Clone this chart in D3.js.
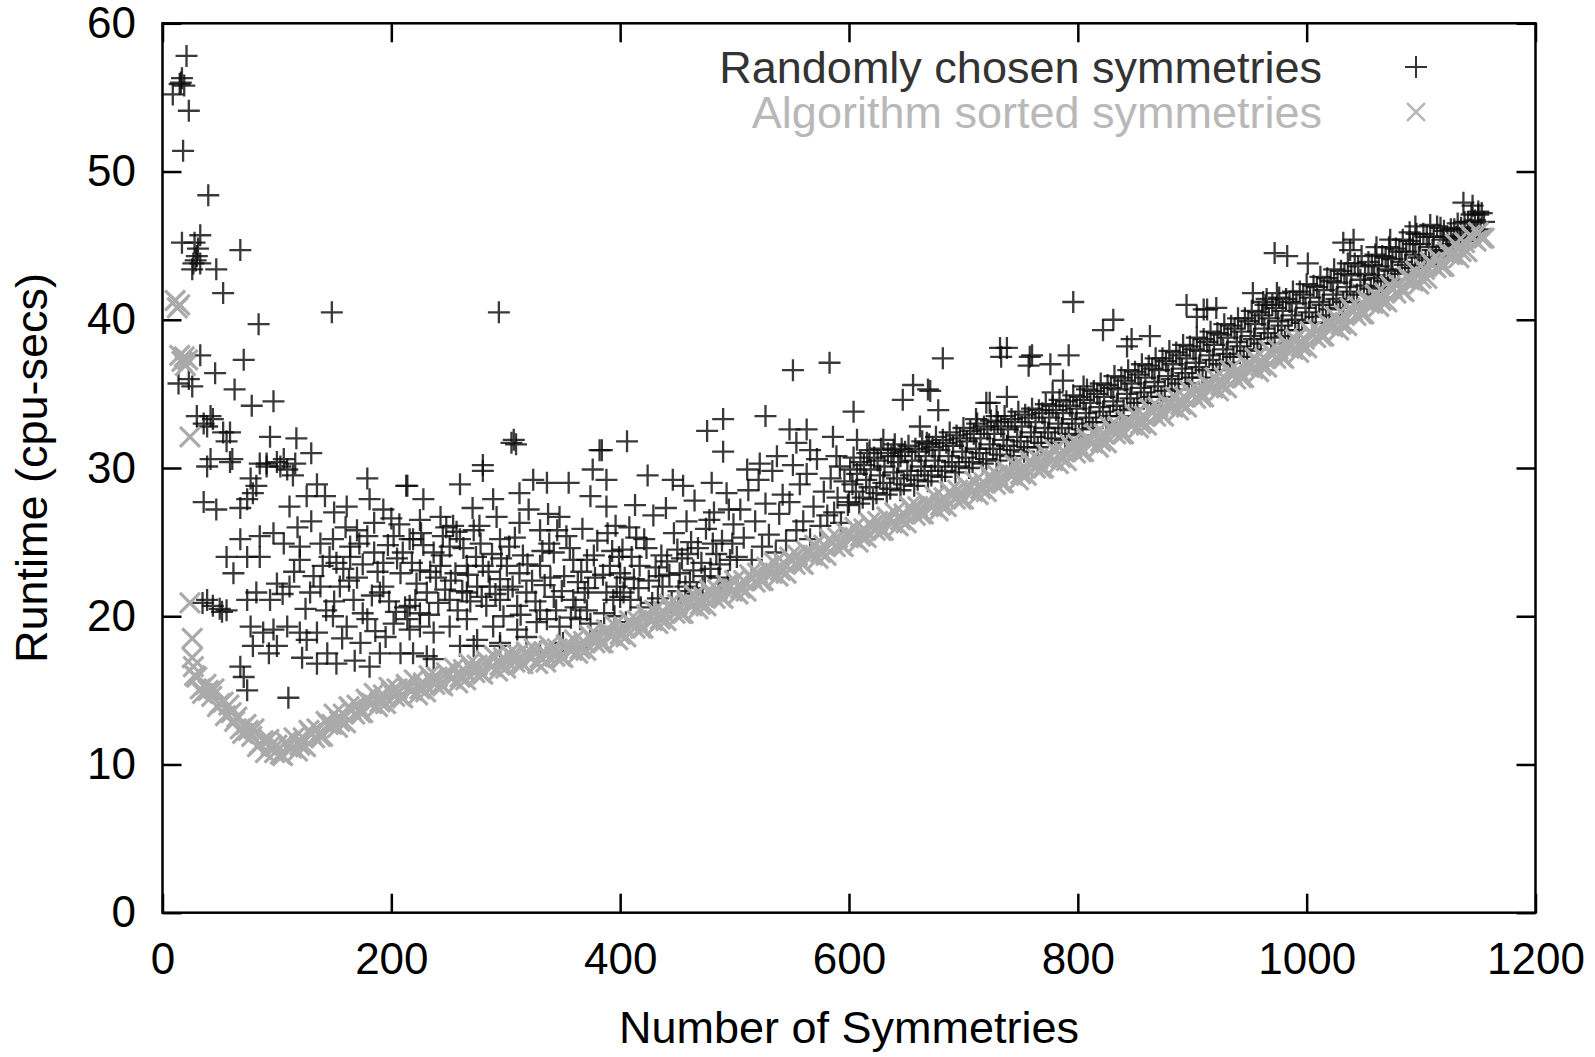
<!DOCTYPE html>
<html lang="en">
<head>
<meta charset="UTF-8">
<title>Runtime vs number of symmetries</title>
<script src="https://cdn.jsdelivr.net/npm/d3@7/dist/d3.min.js"></script>
<style>
  body { margin: 0; background: #fff; }
  text { font-family: "Liberation Sans", Arial, Helvetica, sans-serif; }
</style>
</head>
<body>
<script>
var xTicks = [0, 200, 400, 600, 800, 1000, 1200];
var yTicks = [0, 10, 20, 30, 40, 50, 60];
var seriesNames = ['Randomly chosen symmetries', 'Algorithm sorted symmetries'];
var xTitle = 'Number of Symmetries';
var yTitle = 'Runtime (cpu-secs)';

// [number of symmetries, runtime]
var randomPts = [
  [9,55.2],[15,55.9],[16,56.0],[17,56.3],[19,55.8],[21,57.8],[23,54.1],[18,51.4],[40,48.4],[17,45.2],[28,45.2],[33,45.7],
  [31,44.8],[30,44.3],[27,43.8],[33,43.8],[26,43.4],[29,44.0],[68,44.7],[47,43.4],[53,41.8],[84,39.7],[33,37.6],[71,37.3],
  [46,36.4],[14,35.7],[23,36.0],[26,35.5],[63,35.3],[78,34.2],[97,34.5],[30,33.5],[42,33.5],[36,33.0],[44,33.3],[39,32.8],
  [53,32.4],[59,32.4],[56,31.8],[94,32.1],[117,32.0],[130,31.0],[42,30.6],[61,30.6],[85,30.3],[91,30.3],[106,30.6],[116,30.3],
  [39,30.1],[59,30.4],[77,29.3],[82,28.8],[79,28.3],[74,27.9],[91,30.1],[103,30.1],[109,29.9],[114,29.5],[100,30.4],[135,28.9],
  [179,29.3],[213,28.8],[36,27.7],[47,27.2],[68,27.3],[111,27.4],[126,28.1],[142,28.1],[161,27.4],[181,27.9],[193,27.2],[56,24.0],
  [62,22.9],[74,24.0],[85,24.0],[68,25.2],[85,25.4],[97,25.6],[106,24.9],[120,24.7],[138,24.9],[149,25.2],[164,24.7],[179,25.4],
  [202,25.4],[216,25.2],[120,23.8],[132,22.7],[146,24.0],[164,24.0],[193,23.6],[208,22.9],[100,22.2],[82,21.6],[74,21.1],[94,21.1],
  [35,20.9],[39,21.1],[44,20.7],[50,20.5],[52,20.3],[56,20.4],[111,22.0],[129,21.6],[138,22.0],[155,22.0],[167,21.1],[190,21.6],
  [193,22.0],[77,19.3],[88,18.9],[97,19.1],[109,19.3],[120,18.9],[135,18.9],[149,20.0],[161,19.3],[179,19.8],[202,19.5],[216,19.1],
  [79,18.0],[100,18.0],[126,18.4],[144,17.5],[173,18.2],[190,17.5],[208,17.5],[68,16.6],[71,15.9],[135,16.8],[152,16.8],[181,16.6],
  [74,15.0],[110,14.5],[148,40.5],[294,40.5],
  [105,21.5],[115,23.0],[125,20.5],[140,23.4],[150,21.0],[158,23.2],[170,22.6],[175,20.2],[185,24.3],[198,21.0],[205,23.9],[212,20.6],
  [160,26.0],[170,25.8],[185,26.3],[150,27.0],[130,26.4],[118,26.0],[200,26.6],[210,24.3],[143,20.4],[157,18.5],[168,17.0],[186,19.0],
  [195,18.6],[122,17.2],[93,17.5],[175,23.5],
  [214,28.8],[228,27.9],[260,28.9],[280,29.8],[305,31.7],[307,31.9],[309,31.6],[289,27.9],[312,28.3],[324,29.2],[336,29.0],[382,31.2],
  [406,31.8],[376,29.9],[388,29.2],[374,28.1],[388,27.4],[347,26.7],[330,25.8],[312,26.3],[295,25.2],[277,26.1],[272,25.8],[225,26.5],
  [243,26.7],[254,26.1],[245,25.4],[260,25.2],[219,25.2],[237,24.3],[251,24.7],[225,23.1],[243,23.4],[266,23.4],[280,23.4],[301,23.4],
  [312,22.9],[330,23.4],[342,24.3],[359,23.8],[371,23.8],[391,23.4],[400,22.9],[412,22.5],[397,22.0],[417,23.4],[216,20.7],[231,21.6],
  [225,20.2],[251,21.1],[266,21.6],[275,22.0],[286,22.0],[295,22.5],[295,21.1],[310,20.7],[318,21.6],[330,20.4],[342,21.3],[359,21.1],
  [371,20.4],[388,21.6],[400,21.3],[409,21.1],[214,19.8],[225,19.3],[237,18.9],[251,19.3],[266,19.8],[275,18.4],[289,19.3],[295,18.2],
  [310,19.1],[318,18.6],[336,19.8],[347,19.3],[365,19.8],[374,19.5],[219,17.5],[231,17.3],[272,18.0],[295,18.0],[260,18.0],[237,17.1],
  [280,30.2],[355,29.0],[337,26.9],[350,18.2],[362,17.9],[330,17.6],[383,19.0],[395,20.0],[405,19.6],
  [222,22.2],[228,24.8],[233,20.1],[239,22.6],[247,21.8],[248,26.0],[256,22.9],[258,20.4],[263,24.6],[269,21.0],[271,27.3],[278,24.9],
  [283,20.7],[288,24.2],[292,26.7],[298,20.0],[303,24.7],[306,22.0],[315,24.1],[320,27.2],[323,22.4],[327,19.6],[334,22.1],[338,24.9],
  [344,20.4],[351,22.7],[353,25.4],[357,19.9],[363,22.3],[367,25.9],[369,21.6],[378,22.6],[380,25.1],[386,20.2],[393,24.4],[396,26.1],
  [403,21.6],[410,24.0],[414,25.3],[428,20.9],[431,23.3],[437,22.0],[445,20.9],[450,24.5],[457,22.0],[462,25.0],[467,21.5],[471,23.6],
  [478,26.5],[484,24.2],[488,21.9],[495,27.2],[498,24.9],
  [152,23.6],[163,22.4],[172,24.9],[183,21.4],[188,23.0],[197,24.8],[204,20.3],[207,26.2],[218,23.6],[221,21.1],[226,25.6],[234,23.0],
  [241,20.9],[244,24.1],[252,22.4],[257,25.7],[262,21.7],[267,22.8],[274,24.0],[279,21.3],[285,23.0],[291,21.5],[296,23.9],[302,21.8],
  [308,25.3],[313,20.1],[319,23.5],[326,21.0],[332,24.4],[339,22.6],[345,25.8],[349,21.7],[356,24.6],[361,20.6],[366,23.0],[372,21.9],
  [377,24.1],[385,22.8],[389,25.6],[394,21.1],[399,24.0],[404,22.6],[416,21.9],[423,24.6],[434,22.7],[441,23.7],[452,22.9],[459,24.2],
  [464,23.1],[474,22.7],[481,24.9],[487,23.5],[494,22.4],
  [384,31.2],[424,29.5],[446,29.2],[455,28.8],[476,32.5],[490,33.3],[490,31.1],[527,33.5],[551,36.6],[583,37.1],[480,29.0],[511,29.9],
  [522,30.3],[537,30.8],[548,32.6],[563,32.6],[566,31.2],[554,31.7],[586,32.1],[589,30.8],[592,30.1],
  [402,24.5],[408,26.0],[413,27.5],[418,20.6],[421,25.2],[425,22.4],[429,26.8],[433,21.2],[436,24.1],[440,27.3],[443,22.8],[447,25.6],
  [451,21.7],[454,23.9],[458,26.4],[461,22.3],[465,27.8],[468,24.6],[472,21.9],[475,25.9],[479,23.2],[482,27.0],[486,22.6],[489,25.1],
  [493,28.3],[496,23.8],[499,26.2],
  [502,24.0],[505,27.2],[508,25.3],[512,28.5],[515,23.8],[518,26.4],[521,29.2],[524,24.7],[527,27.6],[530,25.5],[533,29.8],[536,24.3],
  [539,26.9],[542,28.2],[545,25.1],[548,27.7],[551,30.2],[554,25.8],[557,28.9],[560,26.4],[563,29.6],[566,25.2],[569,27.4],[572,30.6],
  [575,26.1],[578,28.4],[581,26.8],[584,29.3],[587,27.0],[590,28.0],[593,26.3],[596,29.1],[599,27.5],
  [604,33.8],[607,31.9],[618,31.2],[630,31.9],[639,31.2],[645,30.8],[647,34.6],[656,35.6],[669,35.3],[671,35.2],[678,33.9],[682,37.4],
  [662,32.8],[668,31.7],
  [711,33.3],[720,34.4],[723,34.4],[729,33.5],[732,38.1],[738,38.1],[733,37.5],[738,34.8],[758,37.5],[757,36.9],[760,37.6],[776,37.0],
  [787,35.9],[778,35.1],[792,37.6],[796,41.2],[805,35.5],
  [822,39.3],[831,40.0],[843,38.2],[847,38.7],[895,41.0],[863,38.9],
  [910,40.7],[913,40.7],[921,40.8],[904,40.2],[953,41.8],[974,41.8],[965,41.4],[962,41.2],[972,44.5],[983,44.3],[1001,43.8],
  [1041,45.4],[1038,44.7],[1073,45.4],[1061,44.9],[1095,46.3],[1090,45.9],[1032,45.2],[1137,47.9],[1150,47.3],[1145,47.7],
  [600,27.7],[601,29.9],[603,28.9],[604,30.7],[606,28.4],[607,29.6],[609,27.6],[610,30.4],[612,28.0],[613,30.2],[615,29.2],[616,31.0],
  [618,28.7],[619,29.9],[621,27.9],[622,30.7],[624,28.3],[625,30.5],[627,29.5],[628,31.3],[630,29.0],[631,30.1],[633,28.2],[634,31.0],
  [636,28.6],[637,30.8],[639,29.7],[640,31.6],[642,29.3],[643,30.4],[645,28.5],[646,31.3],[648,28.9],[649,31.1],
  [651,29.8],[652,31.5],[654,29.5],[655,30.5],[657,28.8],[658,31.3],[660,29.2],[661,31.1],[663,30.1],[664,31.8],[666,29.8],[667,30.8],
  [669,29.1],[670,31.6],[672,29.5],[673,31.4],[675,30.5],[676,32.1],[678,30.1],[679,31.2],[681,29.4],[682,31.9],[684,29.8],[685,31.7],
  [687,30.8],[688,32.4],[690,30.4],[691,31.5],[693,29.7],[694,32.2],[696,30.1],[697,32.0],[699,31.1],
  [700,32.7],[702,30.7],[703,31.8],[705,30.0],[706,32.5],[708,30.4],[709,32.3],[711,31.3],[712,33.0],[714,31.0],[715,32.0],[717,30.3],
  [718,32.8],[720,30.6],[721,32.6],[723,31.6],[724,33.2],[726,31.3],[727,32.3],[729,30.5],[730,33.1],[732,30.9],[733,32.8],[735,31.9],
  [736,33.5],[738,31.5],[739,32.6],[741,30.8],[742,33.3],[744,31.2],[745,33.1],[747,32.1],[748,33.8],
  [750,31.8],[751,32.8],[753,31.1],[754,33.6],[756,31.4],[757,33.4],[759,32.4],[760,34.0],[762,32.1],[763,33.1],[765,31.4],[766,33.9],
  [768,31.7],[769,33.7],[771,32.7],[772,34.3],[774,32.4],[775,33.4],[777,31.7],[778,34.2],[780,32.0],[781,33.9],[783,33.0],[784,34.6],
  [786,32.7],[787,33.7],[789,31.9],[790,34.5],[792,32.3],[793,34.2],[795,33.3],[796,34.9],[798,33.0],[799,34.0],
  [801,32.2],[802,34.8],[804,32.6],[805,34.6],[807,33.7],[808,35.3],[810,33.4],[811,34.4],[813,32.7],[814,35.2],[816,33.1],[817,35.0],
  [819,34.1],[820,35.7],[822,33.8],[823,34.8],[825,33.1],[826,35.6],[828,33.5],[829,35.4],[831,34.5],[832,36.2],[834,34.2],[835,35.3],
  [837,33.5],[838,36.1],[840,33.9],[841,35.9],[843,35.0],[844,36.6],[846,34.7],[847,35.7],[849,34.0],
  [850,36.5],[852,34.4],[853,36.3],[855,35.4],[856,37.0],[858,35.1],[859,36.1],[861,34.4],[862,36.9],[864,34.8],[865,36.7],[867,35.8],
  [868,37.4],[870,35.5],[871,36.6],[873,34.8],[874,37.4],[876,35.2],[877,37.2],[879,36.2],[880,37.9],[882,36.0],[883,37.0],[885,35.3],
  [886,37.8],[888,35.7],[889,37.6],[891,36.7],[892,38.3],[894,36.4],[895,37.4],[897,35.7],[898,38.2],
  [900,36.1],[901,38.0],[903,37.1],[904,38.8],[906,36.8],[907,37.9],[909,36.1],[910,38.7],[912,36.6],[913,38.5],[915,37.6],[916,39.2],
  [918,37.3],[919,38.3],[921,36.6],[922,39.1],[924,37.0],[925,39.0],[927,38.0],[928,39.7],[930,37.7],[931,38.8],[933,37.1],[934,39.6],
  [936,37.5],[937,39.4],[939,38.5],[940,40.1],[942,38.2],[943,39.2],[945,37.5],[946,40.1],[948,37.9],[949,39.9],
  [951,38.9],[952,40.6],[954,38.7],[955,39.7],[957,38.0],[958,40.5],[960,38.4],[961,40.3],[963,39.4],[964,41.0],[966,39.1],[967,40.1],
  [969,38.4],[970,41.0],[972,38.8],[973,40.8],[975,39.9],[976,41.5],[978,39.6],[979,40.6],[981,38.9],[982,41.4],[984,39.3],[985,41.2],
  [987,40.3],[988,41.9],[990,40.0],[991,41.1],[993,39.3],[994,41.9],[996,39.8],[997,41.7],[999,40.8],
  [1000,42.4],[1002,40.5],[1003,41.5],[1005,39.8],[1006,42.3],[1008,40.2],[1009,42.2],[1011,41.2],[1012,42.9],[1014,41.0],[1015,42.0],
  [1017,40.3],[1018,42.8],[1020,40.7],[1021,42.6],[1023,41.7],[1024,43.4],[1026,41.4],[1027,42.5],[1029,40.8],[1030,43.3],[1032,41.2],
  [1033,43.1],[1035,42.2],[1036,43.8],[1038,41.9],[1039,43.0],[1041,41.2],[1042,43.8],[1044,41.7],[1045,43.6],[1047,42.7],[1048,44.3],
  [1050,42.3],[1051,43.1],[1053,41.7],[1054,43.9],[1056,42.1],[1057,43.7],[1059,43.0],[1060,44.4],[1062,42.8],[1063,43.6],[1065,42.2],
  [1066,44.3],[1068,42.6],[1069,44.2],[1071,43.4],[1072,44.9],[1074,43.3],[1075,44.1],[1077,42.7],[1078,44.8],[1080,43.1],[1081,44.6],
  [1083,43.9],[1084,45.4],[1086,43.7],[1087,44.6],[1089,43.2],[1090,45.3],[1092,43.5],[1093,45.1],[1095,44.4],[1096,45.8],[1098,44.2],
  [1099,45.1],[1101,43.6],[1102,45.8],[1104,44.0],[1105,45.6],[1107,44.9],[1108,46.4],[1110,44.7],[1111,45.6],[1113,44.2],[1114,46.3],
  [1116,44.6],[1117,46.2],[1119,45.4],
  [1120,46.0],[1122,45.0],[1123,45.6],[1125,44.7],[1126,46.1],[1128,45.1],[1129,46.1],[1131,45.6],[1132,46.5],[1134,45.5],[1135,46.2],
  [1137,45.3],[1138,46.6],[1140,45.6],[1141,46.6],[1143,46.1],[1144,47.1],[1146,46.0],[1147,46.7],[1149,45.8],[1150,47.1],[1152,46.1],
  [1153,47.2],[1155,46.6]
];

var sortedPts = [
  [11,41.3],[13,40.8],[15,41.0],[15,37.6],[17,37.2],[19,37.5],[20,36.9],[22,37.3],[24,32.1],[24,20.9],[26,18.5],[26,17.2],[27,16.6],[28,16.0],
  [30,15.9],[35,14.8],[40,15.0],[45,15.1],[50,14.1],[55,13.3],[60,13.5],[65,13.2],[70,12.1],[75,12.3],[80,12.4],[85,11.4],
  [90,10.8],[95,11.3],[100,11.3],[105,10.6],[110,11.2],[115,11.8],[120,11.3],[125,11.2],[130,12.1],[135,12.4],[140,11.9],[145,12.7],
  [150,13.4],[155,12.9],[160,12.8],[165,13.7],[170,14.0],[175,13.5],[180,14.2],[185,14.8],[190,14.2],[195,14.1],[200,14.9],[205,15.1],
  [210,14.5],[215,15.1],[220,15.7],[225,15.1],[230,14.9],[235,15.7],[240,15.9],[245,15.3],[250,16.0],[255,16.5],[260,15.9],[265,15.7],
  [270,16.5],[275,16.7],[280,16.1],[285,16.8],[290,17.3],[295,16.7],[300,16.5],[305,17.3],[310,17.4],[315,16.8],[320,17.3],[325,17.8],
  [330,17.2],[335,16.9],[340,17.7],[345,17.8],[350,17.2],[355,17.8],[360,18.4],[365,17.8],[370,17.7],[375,18.5],[380,18.7],[385,18.2],
  [390,18.8],[395,19.4],[400,18.8],[405,18.6],[410,19.5],[415,19.7],[420,19.2],[425,19.8],[430,20.4],[435,19.8],[440,19.7],[445,20.5],
  [450,20.8],[455,20.2],[460,20.8],[465,21.4],[470,20.8],[475,20.7],[480,21.5],[485,21.8],[490,21.2],[495,21.9],[500,22.4],[505,21.9],
  [510,21.7],[515,22.6],[520,22.9],[525,22.4],[530,23.0],[535,23.6],[540,23.1],[545,22.9],[550,23.8],[555,24.1],[560,23.5],[565,24.2],
  [570,24.8],[575,24.3],[580,24.1],[585,25.0],[590,25.3],[595,24.7],[600,25.4],[605,26.0],[610,25.4],[615,25.3],[620,26.1],[625,26.4],
  [630,25.8],[635,26.5],[640,27.0],[645,26.5],[650,26.3],[655,27.2],[660,27.4],[665,26.9],[670,27.5],[675,28.1],[680,27.5],[685,27.4],
  [690,28.2],[695,28.5],[700,27.9],[705,28.6],[710,29.1],[715,28.6],[720,28.4],[725,29.3],[730,29.5],[735,29.0],[740,29.6],[745,30.2],
  [750,29.6],[755,29.5],[760,30.3],[765,30.6],[770,30.0],[775,30.7],[780,31.2],[785,30.7],[790,30.5],[795,31.4],[800,31.6],[805,31.1],
  [810,31.8],[815,32.3],[820,31.8],[825,31.7],[830,32.6],[835,32.8],[840,32.3],[845,33.0],[850,33.6],[855,33.0],[860,32.9],[865,33.8],
  [870,34.1],[875,33.5],[880,34.2],[885,34.8],[890,34.3],[895,34.1],[900,35.0],[905,35.3],[910,34.8],[915,35.5],[920,36.1],[925,35.6],
  [930,35.4],[935,36.3],[940,36.6],[945,36.1],[950,36.8],[955,37.4],[960,36.9],[965,36.8],[970,37.7],[975,38.0],[980,37.4],[985,38.1],
  [990,38.7],[995,38.2],[1000,38.1],[1005,39.0],[1010,39.3],[1015,38.9],[1020,39.6],[1025,40.2],[1030,39.7],[1035,39.6],[1040,40.6],
  [1045,40.9],[1050,40.4],[1055,41.1],[1060,41.7],[1065,41.3],[1070,41.2],[1075,42.1],[1080,42.4],[1085,41.9],[1090,42.7],[1095,43.3],
  [1100,42.8],[1105,42.8],[1110,43.7],[1115,44.1],[1120,43.6],[1125,44.4],[1130,45.1],[1135,44.6],[1140,44.6],[1145,45.5],[1150,45.9],
  [1155,45.5],
  [33,15.1],[38,15.4],[43,14.6],[48,13.9],[53,14.2],[58,14.0],[63,12.9],[68,12.4],[73,12.7],[78,11.9],[83,11.2],[88,11.6],
  [93,11.7],[98,10.8],[103,10.7],[108,11.5],[113,11.1],[118,10.9],[123,11.8],[128,12.3],[133,11.8],[138,11.9],[143,12.9],[148,12.7],
  [153,12.5],[158,13.4],[163,13.9],[168,13.4],[173,13.5],[178,14.4],[183,14.1],[188,13.9],[193,14.7],[198,15.2],[203,14.6],[208,14.6],
  [213,15.4],[218,15.0],[223,14.7],[228,15.5],[233,16.0],[238,15.4],[243,15.4],[248,16.2],[253,15.8],[258,15.5],[263,16.4],[268,16.8],
  [273,16.2],[278,16.2],[283,17.0],[288,16.6],[293,16.3],[298,17.2],[303,17.5],[308,16.9],[313,16.9],[318,17.6],[323,17.2],[328,16.8],
  [333,17.6],[338,18.0],[343,17.3],[348,17.3],[353,18.1],[358,17.7],[363,17.5],[368,18.3],[373,18.7],[378,18.2],[383,18.2],[388,19.1],
  [393,18.7],[398,18.4],[403,19.3],[408,19.7],[413,19.2],[418,19.2],[423,20.1],[428,19.7],[433,19.5],[438,20.3],[443,20.8],[448,20.2],
  [453,20.2],[458,21.1],[463,20.7],[468,20.5],[473,21.3],[478,21.8],[483,21.2],[488,21.3],[493,22.1],[498,21.7],[503,21.5],[508,22.4],
  [513,22.8],[518,22.3],[523,22.4],[528,23.3],[533,22.9],[538,22.7],[543,23.6],[548,24.0],[553,23.5],[558,23.6],[563,24.4],[568,24.1],
  [573,23.9],[578,24.8],[583,25.2],[588,24.7],[593,24.8],[598,25.6],[603,25.3],[608,25.0],[613,25.9],[618,26.3],[623,25.8],[628,25.8],
  [633,26.7],[638,26.3],[643,26.1],[648,26.9],[653,27.4],[658,26.8],[663,26.9],[668,27.7],[673,27.4],[678,27.1],[683,28.0],[688,28.4],
  [693,27.9],[698,27.9],[703,28.8],[708,28.4],[713,28.2],[718,29.0],[723,29.5],[728,28.9],[733,29.0],[738,29.8],[743,29.5],[748,29.2],
  [753,30.1],[758,30.5],[763,30.0],[768,30.0],[773,30.9],[778,30.5],[783,30.3],[788,31.1],[793,31.6],[798,31.0],[803,31.1],[808,32.0],
  [813,31.7],[818,31.4],[823,32.3],[828,32.8],[833,32.3],[838,32.3],[843,33.2],[848,32.9],[853,32.7],[858,33.5],[863,34.0],[868,33.5],
  [873,33.6],[878,34.4],[883,34.1],[888,33.9],[893,34.8],[898,35.2],[903,34.7],[908,34.8],[913,35.7],[918,35.4],[923,35.2],[928,36.1],
  [933,36.6],[938,36.0],[943,36.1],[948,37.0],[953,36.7],[958,36.5],[963,37.4],[968,37.9],[973,37.4],[978,37.5],[983,38.4],[988,38.0],
  [993,37.8],[998,38.7],[1003,39.2],[1008,38.8],[1013,38.9],[1018,39.8],[1023,39.5],[1028,39.3],[1033,40.3],[1038,40.8],[1043,40.3],
  [1048,40.4],[1053,41.3],[1058,41.1],[1063,40.9],[1068,41.8],[1073,42.3],[1078,41.8],[1083,42.0],[1088,42.9],[1093,42.6],[1098,42.4],
  [1103,43.4],[1108,43.9],[1113,43.5],[1118,43.6],[1123,44.6],[1128,44.4],[1133,44.2],[1138,45.2],[1143,45.7],[1148,45.3],[1153,45.5]
];

var w = 1595;
var h = 1057;
var plot = { left: 162.5, right: 1535.5, top: 23.3, bottom: 912.7 };
var tickFont = 44;
var titleFont = 45;
var darkColor = '#333';
var lightColor = '#aaaaaa';
var plusPath = 'M-11,0H11M0,-11V11';
var crossPath = 'M-10,-10L10,10M-10,10L10,-10';
var legendCross = 'M-9,-9L9,9M-9,9L9,-9';

var svg = d3.select('body')
  .append('svg')
  .attr('width', w)
  .attr('height', h)
  .style('background', '#fff');

var xScale = d3.scaleLinear().domain([0, 1200]).range([plot.left, plot.right]);
var yScale = d3.scaleLinear().domain([0, 60]).range([plot.bottom, plot.top]);

// axes: ticks point inward, mirrored on top and right like gnuplot
function styleAxis(g) {
  g.select('.domain').remove();
  g.selectAll('.tick line').attr('stroke', '#000').attr('stroke-width', 2.5);
  g.selectAll('.tick text')
    .attr('fill', '#000')
    .style('font-size', tickFont + 'px')
    .style('font-family', '"Liberation Sans", Arial, Helvetica, sans-serif');
}

svg.append('g')
  .attr('transform', 'translate(0,' + plot.bottom + ')')
  .call(d3.axisBottom(xScale).tickValues(xTicks).tickSize(-19).tickPadding(30).tickFormat(d3.format('d')))
  .call(styleAxis);

svg.append('g')
  .attr('transform', 'translate(0,' + plot.top + ')')
  .call(d3.axisTop(xScale).tickValues(xTicks).tickSize(-19).tickFormat(''))
  .call(styleAxis);

svg.append('g')
  .attr('transform', 'translate(' + plot.left + ',0)')
  .call(d3.axisLeft(yScale).tickValues(yTicks).tickSize(-19).tickPadding(26.5).tickFormat(d3.format('d')))
  .call(styleAxis);

svg.append('g')
  .attr('transform', 'translate(' + plot.right + ',0)')
  .call(d3.axisRight(yScale).tickValues(yTicks).tickSize(-19).tickFormat(''))
  .call(styleAxis);

svg.append('rect')
  .attr('x', plot.left)
  .attr('y', plot.top)
  .attr('width', plot.right - plot.left)
  .attr('height', plot.bottom - plot.top)
  .attr('fill', 'none')
  .attr('stroke', '#000')
  .attr('stroke-width', 2.5);

// randomly chosen symmetries (+), then sorted ones (x) on top
svg.append('g')
  .selectAll('path')
  .data(randomPts)
  .enter()
  .append('path')
  .attr('d', plusPath)
  .attr('transform', d => 'translate(' + xScale(d[0]) + ',' + yScale(d[1]) + ')')
  .attr('stroke', '#0d0d0d')
  .attr('stroke-opacity', 0.82)
  .attr('stroke-width', 2.3)
  .attr('fill', 'none');

svg.append('g')
  .selectAll('path')
  .data(sortedPts)
  .enter()
  .append('path')
  .attr('d', crossPath)
  .attr('transform', d => 'translate(' + xScale(d[0]) + ',' + yScale(d[1]) + ')')
  .attr('stroke', lightColor)
  .attr('stroke-width', 3.2)
  .attr('fill', 'none');

// axis titles
svg.append('text')
  .attr('x', (plot.left + plot.right) / 2)
  .attr('y', 1043)
  .attr('text-anchor', 'middle')
  .style('font-size', titleFont + 'px')
  .attr('fill', '#000')
  .text(xTitle);

svg.append('text')
  .attr('transform', 'translate(47,' + (plot.top + plot.bottom) / 2 + ') rotate(-90)')
  .attr('text-anchor', 'middle')
  .style('font-size', titleFont + 'px')
  .attr('fill', '#000')
  .text(yTitle);

// legend
var legend = svg.append('g');
var legendRows = [
  { name: seriesNames[0], color: darkColor, path: plusPath, y: 67, sw: 2 },
  { name: seriesNames[1], color: '#b8b8b8', path: legendCross, y: 112, sw: 2.5 }
];
legendRows.forEach(function (r) {
  legend.append('text')
    .attr('x', 1322)
    .attr('y', r.y + 16)
    .attr('text-anchor', 'end')
    .style('font-size', titleFont + 'px')
    .attr('fill', r.color)
    .text(r.name);
  legend.append('path')
    .attr('d', r.path)
    .attr('transform', 'translate(1416,' + r.y + ')')
    .attr('stroke', r.color)
    .attr('stroke-width', r.sw)
    .attr('fill', 'none');
});
</script>
</body>
</html>
